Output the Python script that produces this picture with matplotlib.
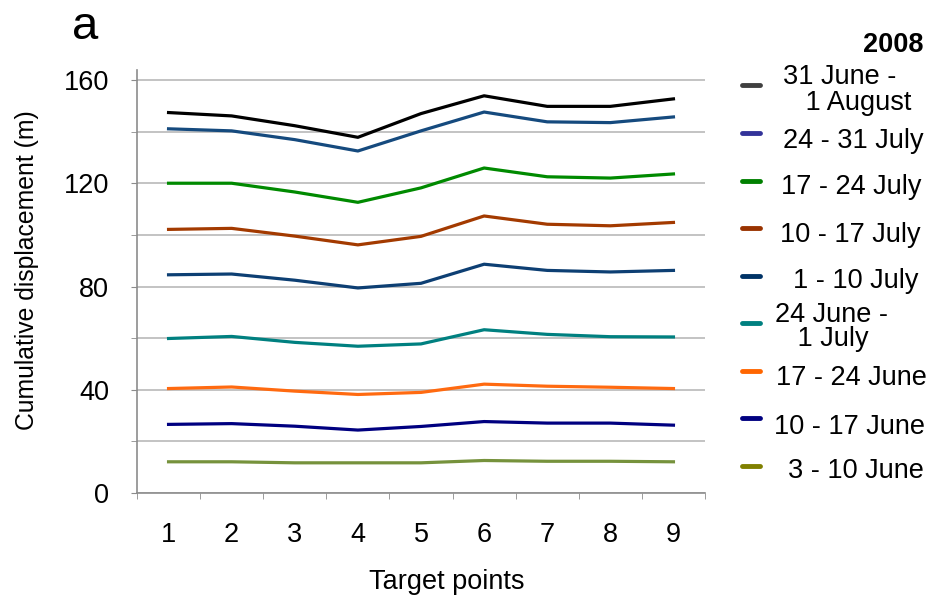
import matplotlib
matplotlib.use('Agg')
import matplotlib.pyplot as plt
from matplotlib.lines import Line2D
import numpy as np

plt.rcParams['font.family'] = ['Liberation Sans', 'DejaVu Sans']

# ---------------- data ----------------
target_points = [1, 2, 3, 4, 5, 6, 7, 8, 9]
tick_labels = ['1', '2', '3', '4', '5', '6', '7', '8', '9']

period_labels = ['31 June -\n   1 August', '24 - 31 July', '17 - 24 July', '10 - 17 July',
                 '1 - 10 July', '24 June -\n   1 July', '17 - 24 June', '10 - 17 June',
                 '3 - 10 June']

jun31_aug1 = [147.5, 146.2, 142.4, 137.9, 147.1, 154.0, 149.9, 149.9, 152.8]
jul24_31 = [141.2, 140.4, 137.0, 132.6, 140.4, 147.7, 143.9, 143.6, 145.8]
jul17_24 = [120.1, 120.1, 116.7, 112.7, 118.3, 126.0, 122.6, 122.1, 123.7]
jul10_17 = [102.2, 102.6, 99.6, 96.2, 99.5, 107.4, 104.2, 103.6, 104.9]
jul1_10 = [84.6, 84.9, 82.5, 79.5, 81.3, 88.7, 86.3, 85.7, 86.3]
jun24_jul1 = [59.9, 60.7, 58.4, 56.9, 57.8, 63.3, 61.5, 60.6, 60.5]
jun17_24 = [40.5, 41.1, 39.5, 38.2, 39.0, 42.2, 41.4, 41.0, 40.5]
jun10_17 = [26.6, 26.9, 25.9, 24.4, 25.8, 27.7, 27.1, 27.1, 26.3]
jun3_10 = [12.1, 12.1, 11.7, 11.7, 11.7, 12.6, 12.3, 12.3, 12.1]

series = [jun31_aug1, jul24_31, jul17_24, jul10_17, jul1_10,
          jun24_jul1, jun17_24, jun10_17, jun3_10]

line_colors = ['#000000', '#154a7e', '#008a00', '#a33a00', '#0d3f73',
               '#008080', '#ff6a10', '#000080', '#76923c']
legend_colors = ['#404040', '#333399', '#008000', '#993300', '#003366',
                 '#008080', '#ff6600', '#000080', '#808000']

W, H = 931, 598
fig = plt.figure(figsize=(W / 100, H / 100), dpi=100)
ax = fig.add_axes([137 / W, 1 - 493 / H, (705 - 137) / W, (493 - 70) / H])

x = np.array(target_points)
for vals, c in zip(series, line_colors):
    ax.plot(x, vals, color=c, lw=2.3, solid_joinstyle='round', zorder=3)

ax.set_xlim(0.5, 9.5)
ax.set_ylim(0, 164)
ax.set_yticks([0, 40, 80, 120, 160])
ax.set_yticks([20, 60, 100, 140], minor=True)
ax.set_xticks(target_points)
ax.set_xticklabels(tick_labels)
ax.set_xticks(np.arange(0.5, 10, 1.0), minor=True)

ax.grid(axis='y', which='both', color='#b3b3b3', lw=1.1)
ax.set_axisbelow(True)

for s in ['top', 'right']:
    ax.spines[s].set_visible(False)
for s in ['left', 'bottom']:
    ax.spines[s].set_color('#8c8c8c')
    ax.spines[s].set_linewidth(1.2)

ax.tick_params(axis='y', which='both', direction='out', length=4, color='#8c8c8c',
               labelsize=19.5, pad=16)
ax.tick_params(axis='x', which='major', length=0, labelsize=19.5, pad=21)
ax.tick_params(axis='x', which='minor', direction='out', length=4, color='#8c8c8c')

fig.text(447 / W, 1 - 582 / H, 'Target points', ha='center', va='center', fontsize=19.5)
fig.text(27 / W, 1 - 270 / H, 'Cumulative displacement (m)', ha='center', va='center',
         rotation=90, fontsize=17.8)
fig.text(85 / W, 1 - 27 / H, 'a', ha='center', va='center', fontsize=34)
fig.text(923 / W, 1 - 45 / H, '2008', ha='right', va='center', fontsize=19.5,
         fontweight='bold')

# legend (manual, Excel-like)
handle_y = [85, 133, 181, 228, 276, 323, 371, 418, 466]
text_pos = [(783, 90), (853, 141), (851, 187), (850, 235), (856, 281),
            (775, 327), (851, 378), (849, 427), (856, 471)]
for lab, c, hy, (tx, ty) in zip(period_labels, legend_colors, handle_y, text_pos):
    fig.add_artist(Line2D([742 / W, 760 / W], [1 - hy / H, 1 - hy / H],
                          transform=fig.transFigure, color=c, lw=3.5,
                          solid_capstyle='round'))
    if '\n' in lab:
        fig.text(tx / W, 1 - ty / H, lab, ha='left', va='center', fontsize=19.5,
                 multialignment='left', linespacing=0.95)
    else:
        fig.text(tx / W, 1 - ty / H, lab, ha='center', va='center', fontsize=19.5)

fig.savefig('out.png', dpi=100)
